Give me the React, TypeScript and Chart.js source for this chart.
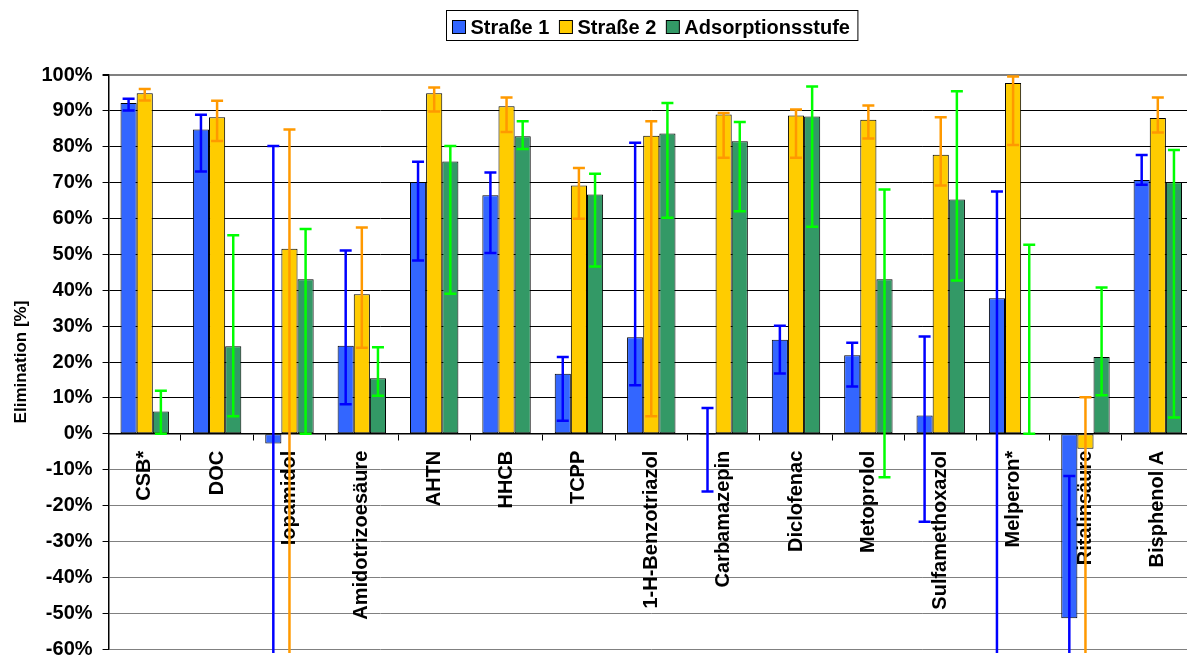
import React, { useEffect, useRef } from "react";
import { Chart, registerables } from "chart.js";

Chart.register(...registerables);

const categories = [
  "CSB*", "DOC", "Iopamidol", "Amidotrizoesäure", "AHTN", "HHCB", "TCPP",
  "1-H-Benzotriazol", "Carbamazepin", "Diclofenac", "Metoprolol",
  "Sulfamethoxazol", "Melperon*", "Ritalinsäure", "Bisphenol A",
];

const seriesLabels = ["Straße 1", "Straße 2", "Adsorptionsstufe"];

const strasse1 = [92.2, 84.8, -2.7, 24.5, 70.2, 66.5, 16.7, 26.9, -0.3, 26.2, 21.9, 5.1, 37.8, -51.4, 70.7];
const strasse1High = [93.4, 88.9, 80.2, 51.1, 75.8, 72.8, 21.4, 81.1, 7.2, 30.1, 25.4, 27.1, 67.5, -11.8, 77.7];
const strasse1Low = [90.1, 73.1, -75, 8.2, 48.3, 50.4, 3.6, 13.5, -16.1, 16.8, 13.2, -24.5, -75, -75, 69.4];

const strasse2 = [94.9, 88.2, 51.6, 38.9, 94.9, 91.3, 69.2, 83.1, 89.0, 88.7, 87.5, 77.8, 97.8, -4.2, 88.0];
const strasse2High = [96.1, 92.8, 84.8, 57.5, 96.5, 93.7, 74.1, 87.1, 89.4, 90.4, 91.5, 88.2, 99.6, 10.2, 93.7];
const strasse2Low = [92.9, 81.6, -75, 24.0, 89.8, 84.1, 59.9, 4.9, 76.9, 76.9, 82.3, 69.2, 80.5, -75, 84.0];

const adsorption = [6.2, 24.4, 43.1, 15.5, 75.9, 82.9, 66.7, 83.7, 81.5, 88.4, 43.1, 65.3, 0, 21.4, 70.1];
const adsorptionHigh = [12.0, 55.3, 57.1, 24.1, 80.2, 87.1, 72.5, 92.2, 86.9, 96.8, 68.1, 95.5, 52.7, 40.8, 79.1];
const adsorptionLow = [0, 4.9, 0, 10.6, 39.0, 79.4, 46.6, 60.2, 62.0, 57.7, -12.1, 42.7, 0, 10.7, 4.5];

const barColors = ["#3366FF", "#FFCC00", "#339966"];
const errColors = ["#0000FF", "#FF9900", "#00FF00"];

const errLows = [strasse1Low, strasse2Low, adsorptionLow];
const errHighs = [strasse1High, strasse2High, adsorptionHigh];

const FONT = '"Liberation Sans", Arial, sans-serif';

const errorBarsPlugin = {
  id: "errorBars",
  afterDatasetsDraw(chart: any) {
    const { ctx, chartArea } = chart;
    const y = chart.scales.y;
    ctx.save();
    ctx.beginPath();
    ctx.rect(chartArea.left, chartArea.top - 8, chartArea.right - chartArea.left, chartArea.bottom - chartArea.top + 12);
    ctx.clip();
    chart.data.datasets.forEach((_ds: any, i: number) => {
      const meta = chart.getDatasetMeta(i);
      ctx.strokeStyle = errColors[i];
      ctx.lineWidth = 2.5;
      meta.data.forEach((bar: any, j: number) => {
        const x = bar.x;
        const yl = y.getPixelForValue(errLows[i][j]);
        const yh = y.getPixelForValue(errHighs[i][j]);
        ctx.beginPath();
        ctx.moveTo(x, yl);
        ctx.lineTo(x, yh);
        ctx.moveTo(x - 6, yh);
        ctx.lineTo(x + 6, yh);
        ctx.moveTo(x - 6, yl);
        ctx.lineTo(x + 6, yl);
        ctx.stroke();
      });
    });
    ctx.restore();
  },
};

const legendBoxPlugin = {
  id: "legendBox",
  afterDraw(chart: any) {
    const { ctx, chartArea } = chart;
    const ds = chart.data.datasets;
    ctx.save();
    ctx.font = `bold 20px ${FONT}`;
    const sq = 13, gapSq = 5, gapItem = 10, padL = 6, padR = 8;
    const widths = ds.map((d: any) => ctx.measureText(d.label).width);
    let total = padL + padR + gapItem * (ds.length - 1);
    widths.forEach((w: number) => { total += sq + gapSq + w; });
    const cx = (chartArea.left + chartArea.right) / 2;
    const left = Math.round(cx - total / 2) + 0.5;
    const top = 10.5, h = 30;
    ctx.fillStyle = "#fff";
    ctx.fillRect(left, top, total, h);
    ctx.strokeStyle = "#000";
    ctx.lineWidth = 1;
    ctx.strokeRect(left, top, total, h);
    let cur = left + padL;
    ds.forEach((d: any, i: number) => {
      ctx.fillStyle = d.backgroundColor;
      ctx.fillRect(cur, 20.5, sq, sq);
      ctx.strokeRect(cur, 20.5, sq, sq);
      cur += sq + gapSq;
      ctx.fillStyle = "#000";
      ctx.textBaseline = "alphabetic";
      ctx.textAlign = "left";
      ctx.fillText(d.label, cur, 33.5);
      cur += widths[i] + gapItem;
    });
    ctx.restore();
  },
};

export default function App() {
  const ref = useRef<HTMLCanvasElement | null>(null);

  useEffect(() => {
    if (!ref.current) return;
    const values = [strasse1, strasse2, adsorption];
    const chart = new Chart(ref.current, {
      type: "bar",
      data: {
        labels: categories,
        datasets: seriesLabels.map((label, i) => ({
          label,
          data: values[i],
          backgroundColor: barColors[i],
          borderColor: "#000",
          borderWidth: 1,
          borderSkipped: false,
          categoryPercentage: 0.669,
          barPercentage: 1.0,
        })),
      },
      options: {
        responsive: false,
        animation: false,
        devicePixelRatio: 1,
        layout: { padding: { top: 75, left: 1, right: 0, bottom: 0 } },
        plugins: {
          legend: { display: false },
          tooltip: { enabled: false },
        },
        scales: {
          x: {
            position: { y: 0 } as any,
            z: 1,
            afterFit: (scale: any) => { scale.height = 0; },
            grid: {
              display: true,
              drawOnChartArea: false,
              drawTicks: true,
              tickLength: 6,
              tickColor: "#000",
              tickWidth: 1,
              offset: true,
            },
            border: { display: true, color: "#000", width: 1.5 },
            ticks: {
              autoSkip: false,
              minRotation: 90,
              maxRotation: 90,
              padding: 11,
              color: "#000",
              font: { family: FONT, size: 20, weight: "bold" },
            },
          },
          y: {
            min: -60,
            max: 100,
            ticks: {
              stepSize: 10,
              padding: 10,
              color: "#000",
              font: { family: FONT, size: 20, weight: "bold" },
              callback: (v: any) => `${v}%`,
            },
            grid: {
              tickLength: 6,
              tickColor: "#000",
              color: (c: any) => (c.tick && c.tick.value >= 0 && c.tick.value < 100 ? "#000" : "#808080"),
              lineWidth: (c: any) => (c.tick && c.tick.value === 100 ? 2 : 1),
            },
            border: { display: true, color: "#000", width: 1.5 },
            title: {
              display: true,
              text: "Elimination [%]",
              color: "#000",
              font: { family: FONT, size: 17, weight: "bold" },
              padding: { top: 10, bottom: 0 },
            },
          },
        },
      },
      plugins: [errorBarsPlugin, legendBoxPlugin],
    });
    return () => chart.destroy();
  }, []);

  return (
    <div style={{ position: "fixed", left: 0, top: 0, width: 1187, height: 659, overflow: "hidden", background: "#fff" }}>
      <canvas ref={ref} width={1194} height={671} style={{ display: "block" }} />
    </div>
  );
}
